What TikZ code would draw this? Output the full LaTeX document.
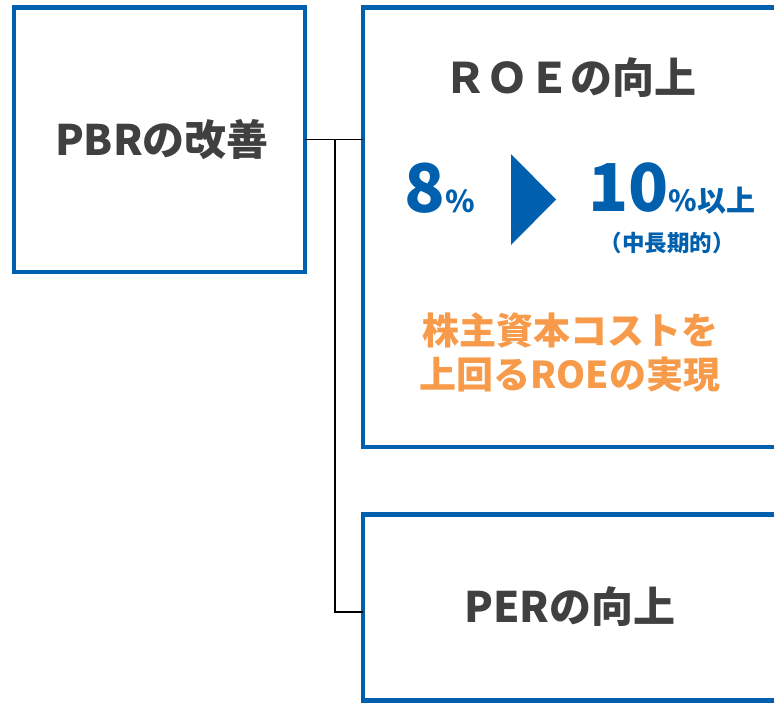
\documentclass[tikz,border=0pt]{standalone}
\usepackage{fontspec}
\setmainfont{Noto Sans CJK JP}
\definecolor{boxblue}{HTML}{0060AE}
\definecolor{txtgray}{HTML}{404040}
\definecolor{orng}{HTML}{F79A4A}
\tikzset{
  bluebox/.style={draw=boxblue, line width=4.5pt},
  conn/.style={draw=black, line width=1.4pt},
  lbl/.style={inner sep=0pt, anchor=base, font=\bfseries},
}
\begin{document}
\begin{tikzpicture}[x=1pt,y=-1pt]
\useasboundingbox (0,0) rectangle (774,702);
\begin{scope}
\clip (0,0) rectangle (774,702);
% boxes
\draw[bluebox] (14,7.5) rectangle (305,272);
\draw[bluebox] (363,7.5) rectangle (790,447);
\draw[bluebox] (363,514.5) rectangle (790,700.5);
\node[inner sep=0pt, minimum width=291pt, minimum height=264.5pt] (pbr) at (159.5,139.75) {};
\node[inner sep=0pt, minimum width=427pt, minimum height=439.5pt] (roe) at (576.5,227.25) {};
\node[inner sep=0pt, minimum width=427pt, minimum height=195pt] (per) at (576.5,612) {};
% connectors
\coordinate (j) at (335,139.75);
\draw[conn] (pbr.east) -- (pbr.east -| roe.west);
\draw[conn] (j) |- (per.west);
% texts
\node[lbl, text=txtgray, font=\bfseries\fontsize{42}{48}\selectfont] (tpbr) at (162,155) {PBRの改善};
\node[lbl, text=txtgray, font=\bfseries\fontsize{42}{48}\selectfont] (troe) at (570,93) {ＲＯＥの向上};
\node[lbl, text=txtgray, font=\bfseries\fontsize{42}{48}\selectfont] (tper) at (570,622) {PERの向上};
\node[lbl, text=boxblue] (t8) at (440,212) {\fontsize{67}{70}\selectfont 8\fontsize{30}{34}\selectfont\%};
\node[lbl, text=boxblue] (t10) at (672,211) {\fontsize{66}{70}\selectfont 10\fontsize{29}{34}\selectfont\%以上};
\node[lbl, text=boxblue, font=\bfseries\fontsize{22.5}{26}\selectfont] (tmid) at (667,251) {（中長期的）};
\node[lbl, text=orng, font=\bfseries\fontsize{37}{44}\selectfont] (o1) at (570,344) {株主資本コストを};
\node[lbl, text=orng, font=\bfseries\fontsize{37}{44}\selectfont] (o2) at (570,388) {上回るROEの実現};
% triangle
\fill[boxblue] (511,154) -- (556,199.5) -- (511,245) -- cycle;
\end{scope}
\end{tikzpicture}
\end{document}
